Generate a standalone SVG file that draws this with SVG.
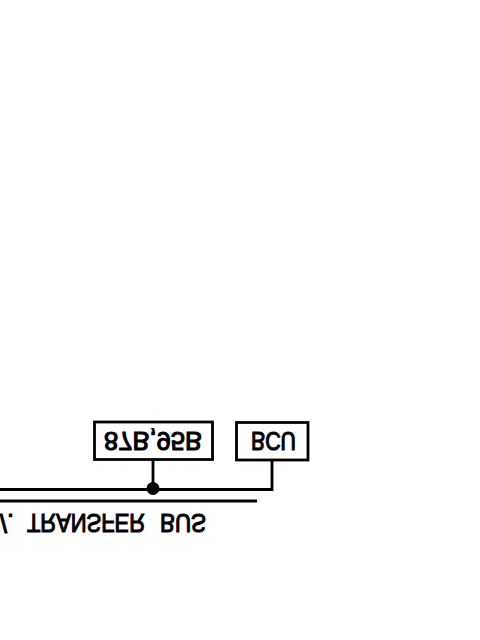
<svg xmlns="http://www.w3.org/2000/svg" width="480" height="640" viewBox="0 0 480 640">
<style>
.b{fill:#fff;stroke:#000;stroke-width:2.8}
.l{fill:none;stroke:#000;stroke-width:2.8}
.t{font-family:"Liberation Sans",Arial,sans-serif;font-size:25px;font-weight:400;fill:#000;stroke:#000;stroke-width:1.1}
</style>
<rect width="480" height="640" fill="#fff"/>
<g id="connectors">
<path class="l" d="M0 489.500H272V460M153 489.500V459"/>
<path class="l" d="M0 501H257"/>
<circle cx="153" cy="488.500" r="6.500" fill="#000"/>
</g>
<g id="node-87b">
<rect class="b" x="94.500" y="422" width="118" height="37.500"/>
<text class="t" transform="translate(104 432) scale(1 -1)" textLength="98" lengthAdjust="spacingAndGlyphs">87B,95B</text>
</g>
<g id="node-bcu">
<rect class="b" x="236.500" y="422.500" width="71.500" height="37.500"/>
<text class="t" transform="translate(251 432) scale(1 -1)" textLength="45" lengthAdjust="spacingAndGlyphs">BCU</text>
</g>
<g id="bus-label">
<text class="t" transform="translate(0 514) scale(1 -1)">/.</text>
<text class="t" transform="translate(27 514) scale(1 -1)" textLength="118" lengthAdjust="spacingAndGlyphs">TRANSFER</text>
<text class="t" transform="translate(160 514) scale(1 -1)" textLength="46" lengthAdjust="spacingAndGlyphs">BUS</text>
</g>
</svg>
